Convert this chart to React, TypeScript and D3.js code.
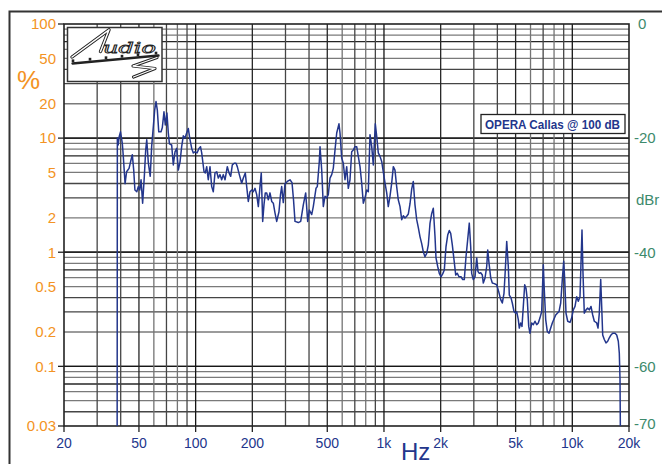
import React from "react";
import * as d3 from "d3";

// ---- data ----
const freqHz = [
  38.3, 38.4, 38.8, 39.3, 39.9, 40.8, 41.3, 42.2, 43.0, 44.3, 45.4, 46.1, 46.9, 47.6, 48.7, 49.6, 50.5, 51.3, 52.3, 53.4,
  54.3, 55.0, 56.1, 57.4, 58.4, 59.6, 60.6, 61.6, 62.6, 63.7, 65.5, 66.5, 67.9, 69.0, 70.4, 71.6, 72.6, 74.6, 76.1, 77.7,
  79.3, 80.9, 82.6, 84.3, 86.0, 87.8, 89.6, 91.4, 93.0, 95.3, 97.2, 99.2, 101.7, 104.2, 106.1, 107.7, 110.8, 112.5, 114.5, 116.7,
  119.2, 121.7, 124.1, 126.7, 129.4, 131.9, 134.7, 137.5, 140.2, 143.2, 147.3, 150.4, 153.5, 156.6, 160.4, 163.8, 166.4, 170.6, 175.6, 179.1,
  183.5, 186.7, 190.4, 194.4, 198.5, 202.4, 206.6, 211.0, 215.2, 219.6, 223.1, 227.0, 230.6, 234.3, 238.4, 243.1, 248.2, 253.5, 258.5, 263.8,
  269.4, 277.0, 282.2, 286.3, 292.0, 298.1, 306.8, 317.0, 324.9, 330.9, 337.0, 350.9, 361.3, 373.0, 384.0, 393.5, 401.3, 413.3, 421.4, 435.6,
  442.6, 453.6, 457.5, 467.1, 476.3, 486.3, 496.5, 506.3, 516.9, 527.8, 538.2, 549.5, 561.1, 576.8, 584.2, 596.4, 608.2, 621.0, 634.0, 646.5,
  660.1, 673.9, 687.3, 701.7, 716.4, 730.7, 746.0, 761.6, 776.8, 793.0, 809.7, 825.7, 843.0, 860.8, 877.7, 899.4, 915.0, 933.1, 952.7, 972.6,
  991.7, 1013, 1034, 1054, 1076, 1099, 1121, 1144, 1168, 1191, 1217, 1242, 1267, 1293, 1320, 1347, 1375, 1404, 1431, 1461,
  1492, 1522, 1554, 1586, 1617, 1651, 1686, 1720, 1756, 1793, 1828, 1866, 1889, 1929, 1967, 2008, 2050, 2091, 2135, 2180,
  2223, 2261, 2306, 2354, 2404, 2451, 2502, 2565, 2619, 2670, 2726, 2783, 2838, 2887, 2922, 2980, 3044, 3108, 3158, 3208,
  3263, 3328, 3369, 3440, 3512, 3555, 3612, 3688, 3761, 3852, 3967, 4066, 4166, 4249, 4338, 4408, 4485, 4573, 4629, 4726,
  4802, 4903, 5006, 5068, 5168, 5231, 5321, 5406, 5493, 5587, 5677, 5768, 5868, 5962, 6087, 6207, 6337, 6471, 6598, 6737,
  6878, 7014, 7100, 7223, 7367, 7522, 7679, 7831, 7995, 8163, 8325, 8500, 8678, 8849, 9002, 9113, 9259, 9454, 9722, 9926,
  10123, 10336, 10553, 10761, 10986, 11122, 11258, 11397, 11579, 11823, 12073, 12311, 12570, 12833, 13087, 13476, 13692, 13911, 14151, 14324,
  14501, 14788, 15098, 15416, 15721, 16050, 16386, 16856, 17210, 17549, 17765, 17918, 18006,
];

const levelDbr = [
  -72, -20.0, -21.2, -19.7, -18.9, -20.9, -23.2, -28.0, -25.9, -25.3, -23.8, -22.9, -25.6, -29.1, -29.4, -28.5, -29.1, -27.3, -31.4, -26.7,
  -22.1, -20.3, -24.4, -26.7, -21.5, -18.0, -15.1, -13.6, -15.1, -18.9, -18.9, -18.2, -15.4, -17.7, -15.6, -19.1, -21.0, -21.2, -24.7, -22.4,
  -21.8, -25.6, -24.2, -21.5, -19.6, -20.0, -19.1, -18.3, -20.0, -21.8, -22.6, -22.4, -22.6, -21.8, -21.5, -22.6, -25.9, -26.1, -25.0, -27.3,
  -25.0, -28.5, -29.4, -26.1, -25.9, -27.0, -26.4, -27.3, -26.4, -27.3, -25.0, -26.1, -26.7, -24.7, -24.4, -24.4, -25.0, -26.4, -27.9, -27.0,
  -26.1, -28.5, -31.1, -29.4, -29.1, -29.4, -28.8, -29.9, -32.0, -28.5, -26.1, -34.6, -31.7, -29.6, -29.6, -30.8, -29.6, -31.1, -31.4, -33.1,
  -34.6, -32.9, -29.9, -28.5, -31.3, -28.0, -27.6, -27.3, -27.8, -30.8, -34.6, -34.8, -34.6, -31.7, -29.6, -34.6, -32.6, -33.4, -32.0, -28.8,
  -28.5, -24.1, -21.5, -25.6, -32.0, -30.2, -30.5, -29.9, -27.0, -26.4, -25.3, -22.1, -19.1, -17.5, -19.1, -23.5, -24.4, -27.3, -25.0, -28.8,
  -27.3, -22.4, -22.1, -21.5, -21.5, -23.2, -25.0, -27.9, -31.4, -30.5, -29.1, -29.4, -19.4, -21.5, -24.7, -17.5, -19.7, -22.6, -23.2, -24.1,
  -25.9, -27.9, -29.6, -32.0, -30.2, -27.9, -25.0, -25.6, -28.5, -30.8, -32.0, -34.3, -33.6, -34.0, -33.7, -33.3, -31.5, -28.9, -27.6, -31.7,
  -34.3, -35.7, -37.3, -38.5, -39.9, -40.8, -40.2, -38.7, -34.9, -33.2, -32.3, -37.2, -41.0, -42.5, -43.7, -44.3, -43.8, -43.1, -39.0, -37.0,
  -36.2, -36.7, -38.7, -41.3, -44.0, -43.7, -44.3, -44.3, -44.8, -44.8, -40.8, -37.8, -34.9, -39.0, -43.7, -44.8, -44.3, -41.0, -43.4, -43.7,
  -43.6, -44.0, -45.4, -44.5, -42.5, -39.6, -41.9, -44.5, -45.4, -45.5, -45.7, -46.9, -48.3, -48.9, -47.2, -43.1, -38.1, -42.5, -47.5, -48.0,
  -48.9, -50.4, -50.7, -50.4, -51.8, -53.3, -52.4, -53.0, -49.5, -45.7, -46.3, -48.3, -53.0, -54.2, -52.4, -52.7, -52.1, -52.7, -52.4, -51.5,
  -50.4, -42.2, -46.6, -51.8, -53.9, -54.2, -53.3, -52.4, -51.7, -51.0, -50.7, -50.4, -48.9, -44.8, -41.6, -44.8, -50.7, -52.1, -52.3, -51.5,
  -50.1, -49.5, -47.8, -48.6, -47.8, -41.9, -36.1, -43.7, -50.7, -50.1, -49.8, -50.1, -49.5, -51.0, -52.1, -52.4, -53.3, -50.7, -44.8, -49.5,
  -54.5, -55.3, -55.9, -55.6, -55.0, -54.5, -54.2, -54.2, -54.5, -55.6, -57.7, -62.3, -72,
];

const pctTicks = [100, 50, 20, 10, 5, 2, 1, 0.5, 0.2, 0.1, 0.03];
const pctLabels = ["100", "50", "20", "10", "5", "2", "1", "0.5", "0.2", "0.1", "0.03"];
const pctMarkTicks = [100, 10, 1, 0.1, 0.03];
const freqTicks = [20, 50, 100, 200, 500, 1000, 2000, 5000, 10000, 20000];
const freqLabels = ["20", "50", "100", "200", "500", "1k", "2k", "5k", "10k", "20k"];
const dbrTicks = [0, -20, -40, -60, -70];
const dbrLabels = ["0", "-20", "-40", "-60", "-70"];
const legendText = "OPERA Callas @ 100 dB";

const ORANGE = "#f39323";
const TEAL = "#3d8a6c";
const NAVY = "#23368c";
const FONT = "'Liberation Sans', Arial, Helvetica, sans-serif";

const L = 64, R = 629, T = 24, B = 426;

function vColor(m: number) {
  if (m === 1) return "#161616";
  if (m === 2 || m === 5) return "#262626";
  if (m === 3 || m === 7 || m === 9 || m === 4) return "#454545";
  return "#747474";
}
function hColor(m: number) {
  if (m === 1) return "#161616";
  if (m === 7) return "#262626";
  if (m === 3 || m === 4) return "#454545";
  return "#7a7a7a";
}

export default function App() {
  const x = d3.scaleLog().domain([20, 20000]).range([L, R]);
  const yPct = d3.scaleLog().domain([100, 0.03]).range([T, B]);
  const yDb = d3.scaleLinear().domain([0, 20 * Math.log10(0.03 / 100)]).range([T, B]);

  const vGrid: { f: number; m: number }[] = [];
  [10, 100, 1000, 10000].forEach((dec) => {
    for (let m = 1; m <= 9; m++) {
      const f = m * dec;
      if (f > 20 && f < 20000) vGrid.push({ f, m });
    }
  });
  const hGrid: { v: number; m: number }[] = [];
  [0.01, 0.1, 1, 10].forEach((dec) => {
    for (let m = 1; m <= 10; m++) {
      const v = m * dec;
      if (v > 0.03 && v < 100) hGrid.push({ v, m: m === 10 ? 1 : m });
    }
  });

  const pts = freqHz.map((f, i) => [f, levelDbr[i]] as [number, number]);
  const line = d3
    .line<[number, number]>()
    .x((d) => x(d[0]))
    .y((d) => yDb(d[1]))(pts);

  return (
    <svg
      width={662}
      height={464}
      style={{ position: "absolute", left: 0, top: 0, display: "block", background: "#fff" }}
      fontFamily={FONT}
    >
      <defs>
        <clipPath id="plotclip">
          <rect x={L} y={T} width={R - L} height={B - T} />
        </clipPath>
      </defs>
      <rect x={0} y={0} width={662} height={464} fill="#fff" />
      {/* outer frame */}
      <rect x={9.5} y={11.5} width={700} height={520} fill="none" stroke="#333" strokeWidth={2} />

      {/* grid */}
      {hGrid.map((g, i) => (
        <line key={"h" + i} x1={L} x2={R} y1={yPct(g.v)} y2={yPct(g.v)} stroke={hColor(g.m)} strokeWidth={1.3} />
      ))}
      {vGrid.map((g, i) => (
        <line key={"v" + i} x1={x(g.f)} x2={x(g.f)} y1={T} y2={B} stroke={vColor(g.m)} strokeWidth={1.3} />
      ))}
      {/* plot frame */}
      <rect x={L} y={T} width={R - L} height={B - T} fill="none" stroke="#222" strokeWidth={1.6} />

      {/* left ticks & labels */}
      {pctMarkTicks.map((v, i) => (
        <line key={"lt" + i} x1={L - 6} x2={L} y1={yPct(v)} y2={yPct(v)} stroke="#222" strokeWidth={1.3} />
      ))}
      {pctTicks.map((v, i) => (
        <text key={"ll" + i} x={56} y={yPct(v) + 5.3} textAnchor="end" fontSize={15} fill={ORANGE}>
          {pctLabels[i]}
        </text>
      ))}
      <text x={17} y={89} fontSize={26} fill={ORANGE}>%</text>

      {/* bottom ticks & labels */}
      {freqTicks.map((f, i) => (
        <line key={"bt" + i} x1={x(f)} x2={x(f)} y1={B} y2={B + 6} stroke="#222" strokeWidth={1.3} />
      ))}
      {freqTicks.map((f, i) => (
        <text key={"bl" + i} x={x(f)} y={448} textAnchor="middle" fontSize={14} fill={NAVY}>
          {freqLabels[i]}
        </text>
      ))}
      <text x={401} y={460} fontSize={24} fill={NAVY}>Hz</text>

      {/* right labels */}
      {dbrTicks.map((d, i) => (
        <text key={"rl" + i} x={d === 0 ? 638 : 634} y={yDb(d) + 5.3} fontSize={15} fill={TEAL}>
          {dbrLabels[i]}
        </text>
      ))}
      <text x={636} y={205} fontSize={15} fill={TEAL}>dBr</text>

      {/* data */}
      <path d={line || ""} fill="none" stroke={NAVY} strokeWidth={1.5} strokeLinejoin="round" clipPath="url(#plotclip)" />

      {/* logo */}
      <rect x={67.5} y={27.5} width={94.5} height={54} fill="#fff" stroke="#333" strokeWidth={1.5} />
      <g fill="none" strokeLinecap="round" strokeLinejoin="round">
        <path d="M72,57 L109,29.8 L100.5,51.5" stroke="#222" strokeWidth={3.4} />
        <path d="M72,57 L109,29.8 L100.5,51.5" stroke="#fff" strokeWidth={1.5} />
        <path d="M157,57.5 L133,66 L155,68.5 L133.5,77" stroke="#222" strokeWidth={3.2} />
        <path d="M157,57.5 L133,66 L155,68.5 L133.5,77" stroke="#fff" strokeWidth={1.3} />
        <path d="M72.5,63.5 L158.5,55.5" stroke="#222" strokeWidth={2.4} />
      </g>
      {[73, 90, 106, 122, 138, 156].map((px, i) => (
        <rect key={"lg" + i} x={px - 1.3} y={62.2 - (px - 73) * 0.093 - 2.8} width={2.6} height={2.8} fill="#222" />
      ))}
      <text
        x={103}
        y={53}
        fontSize={15}
        fontStyle="italic"
        fontFamily="'DejaVu Serif', serif"
        fill="#fff"
        stroke="#222"
        strokeWidth={0.8}
        textLength={53}
        lengthAdjust="spacingAndGlyphs"
      >
        udio
      </text>

      {/* legend */}
      <rect x={481} y={114.5} width={144} height={19} fill="#fff" stroke="#222" strokeWidth={1.3} />
      <text
        x={485}
        y={128.8}
        fontSize={13}
        fontWeight="bold"
        fill={NAVY}
        textLength={135}
        lengthAdjust="spacingAndGlyphs"
      >
        {legendText}
      </text>
    </svg>
  );
}
